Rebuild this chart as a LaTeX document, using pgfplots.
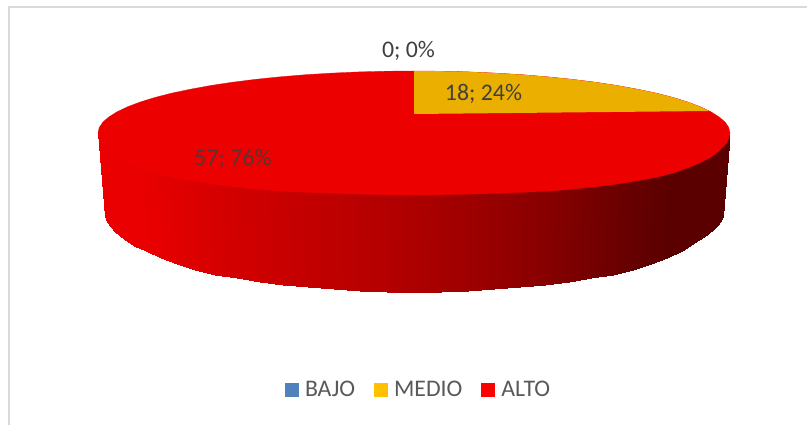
\documentclass[border=0pt]{standalone}
\usepackage{fontspec}
\setmainfont{Carlito}
\usepackage{pgfplots}
\usepackage{pgfplotstable}
\pgfplotsset{compat=1.18}
\definecolor{topred}{RGB}{236,0,0}
\definecolor{slicegold}{RGB}{235,175,0}
\definecolor{framegray}{RGB}{217,217,217}
\definecolor{lab}{RGB}{64,64,64}
\definecolor{labred}{RGB}{92,50,50}
\definecolor{legtxt}{RGB}{89,89,89}
\definecolor{c1}{RGB}{79,129,189}
\definecolor{c2}{RGB}{255,192,0}
\definecolor{c3}{RGB}{255,0,0}
\pgfplotstableread{
x y m
98 133 234
105 216 234
99.2 134.9 234
106.2 220 234
102.8 140.8 234
109.7 226 234
108.8 147 234
115.5 232.5 234
117.1 153.2 234
123.6 239.5 234
127.6 158.7 234
134 245.5 234
140.3 164 233
146.4 251 233
155.1 169.1 230
160.9 257.5 230
171.9 173.4 225
177.3 264 225
190.6 176.8 220
195.5 269.7 220
210.9 180 215
215.4 274.8 215
232.7 182.8 210
236.8 278.4 210
256 185.2 205
259.5 281.6 205
280.5 187.2 200
283.4 284.6 200
305.9 188.3 195
308.3 287.1 195
332.2 189.4 190
334 289.2 190
359.1 190.1 185
360.3 290.8 185
386.4 190.8 179
387.1 291.7 179
414 191 173
414 292 173
441.6 190.8 165
440.9 291.7 165
468.9 190.1 158
467.7 290.8 158
495.8 189.4 150
494 289.2 150
522.1 188.3 143
519.7 287.1 143
547.5 187.2 135
544.6 284.6 135
572 185.2 126
568.5 281.6 126
595.3 182.8 117
591.2 278.4 117
617.1 180 109
612.6 274.6 109
637.4 176.8 101
632.5 270 101
656.1 173.4 95
650.7 264.5 95
672.9 169.1 90
667.1 258 90
687.7 164 90
681.6 251 90
700.4 158.7 90
694 243.5 90
710.9 153.2 90
704.4 237 90
719.2 147 90
712.5 230.5 90
725.2 140.8 90
718.3 224.5 90
728.8 134.9 90
721.8 219.5 90
730 133 90
723 216 90
}\sidetable
\begin{document}
\begin{tikzpicture}
\begin{axis}[
  width=807pt, height=425pt, scale only axis,
  xmin=0, xmax=807, ymin=0, ymax=425, y dir=reverse,
  hide axis, clip=true,
  colormap={redramp}{rgb255(0cm)=(0,0,0); rgb255(1cm)=(255,0,0)},
  point meta min=0, point meta max=255,
  legend columns=3,
  legend cell align=left,
  legend style={
    draw=none, fill=none, inner sep=0pt, outer sep=0pt,
    at={(axis cs:285,390)}, anchor=west,
    nodes={inner sep=0pt, outer sep=0pt, text=legtxt, font=\fontsize{23.8}{28}\selectfont},
    /tikz/every even column/.append style={column sep=19pt},
  },
]
% page background, full extent
\addplot[fill=white, draw=none, forget plot] coordinates {(0,0)(807,0)(807,425)(0,425)} -- cycle;
% frame
\addplot[framegray, line width=2.2pt, forget plot] coordinates {(8.6,425) (8.6,7) (807,7)};
% side wall
\addplot[surf, shader=interp, mesh/rows=37, point meta=explicit, forget plot]
  table[x=x, y=y, meta=m] {\sidetable};
% top face
\addplot[fill=topred, draw=topred, line width=0.3pt, forget plot] coordinates {
(98,133)(99.2,127.6)(102.8,122.2)(108.8,117)(117.1,111.8)(127.6,106.8)(140.3,102)(155.1,97.4)(171.9,93.1)(190.6,89.2)(210.9,85.5)(232.7,82.2)(256,79.3)(280.5,76.8)(305.9,74.7)(332.2,73.1)(359.1,71.9)(386.4,71.2)(414,71)
(441.6,71.2)(468.9,71.9)(495.8,73.1)(522.1,74.7)(547.5,76.8)(572,79.3)(595.3,82.2)(617.1,85.5)(637.4,89.2)(656.1,93.1)(672.9,97.4)(687.7,102)(700.4,106.8)(710.9,111.8)(719.2,117)(725.2,122.2)(728.8,127.6)(730,133)
(728.8,138.9)(725.2,144.8)(719.2,151)(710.9,157.2)(700.4,162.7)(687.7,168)(672.9,173.1)(656.1,177.4)(637.4,180.8)(617.1,184)(595.3,186.8)(572,189.2)(547.5,191.2)(522.1,192.3)(495.8,193.4)(468.9,194.1)(441.6,194.8)(414,195)
(386.4,194.8)(359.1,194.1)(332.2,193.4)(305.9,192.3)(280.5,191.2)(256,189.2)(232.7,186.8)(210.9,184)(190.6,180.8)(171.9,177.4)(155.1,173.1)(140.3,168)(127.6,162.7)(117.1,157.2)(108.8,151)(102.8,144.8)(99.2,138.9)(98,133)
} -- cycle;
% MEDIO slice
\addplot[fill=slicegold, draw=none, forget plot] coordinates {
(414,114)(414,71)(441.6,71.2)(468.9,71.9)(495.8,73.1)(522.1,74.7)(547.5,76.8)(572,79.3)(595.3,82.2)(617.1,85.5)(637.4,89.2)(656.1,93.1)(672.9,97.4)(687.7,102)(700.4,106.8)(709,111)
} -- cycle;
% legend
\addlegendimage{legend image code/.code={\fill[c1,draw=none] (0pt,-7pt) rectangle (14pt,7pt); \path[draw=none,fill=none] (0pt,0pt) rectangle (20pt,0pt);}}
\addlegendentry{BAJO}
\addlegendimage{legend image code/.code={\fill[c2,draw=none] (0pt,-7pt) rectangle (14pt,7pt); \path[draw=none,fill=none] (0pt,0pt) rectangle (20pt,0pt);}}
\addlegendentry{MEDIO}
\addlegendimage{legend image code/.code={\fill[c3,draw=none] (0pt,-7pt) rectangle (14pt,7pt); \path[draw=none,fill=none] (0pt,0pt) rectangle (20pt,0pt);}}
\addlegendentry{ALTO}
% data labels
\node[text=lab, font=\fontsize{23.8}{28}\selectfont, inner sep=0pt] at (axis cs:408.5,51) {0; 0\%};
\node[text=lab, font=\fontsize{23.8}{28}\selectfont, inner sep=0pt] at (axis cs:483.5,94) {18; 24\%};
\node[text=labred, font=\fontsize{23.8}{28}\selectfont, inner sep=0pt] at (axis cs:233,158.5) {57; 76\%};
\end{axis}
\end{tikzpicture}
\end{document}
